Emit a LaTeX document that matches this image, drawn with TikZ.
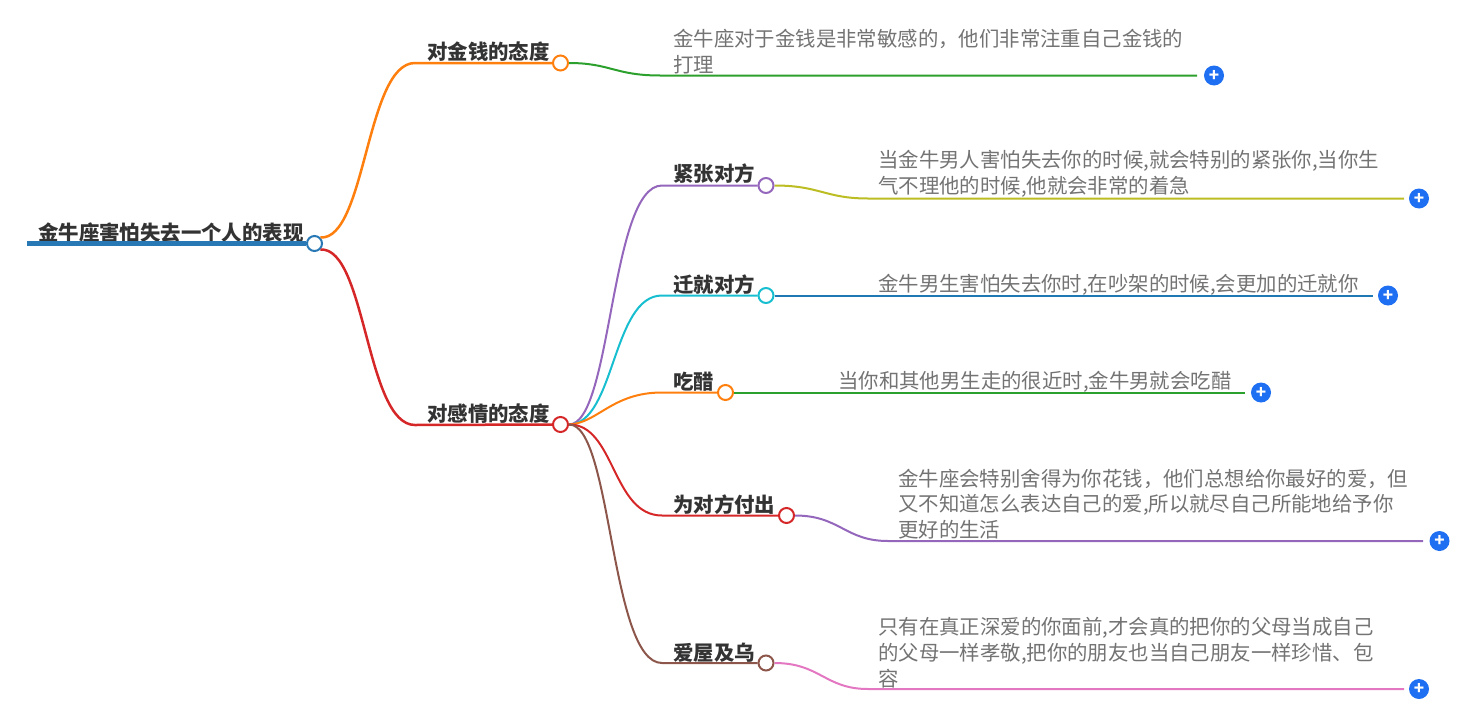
\documentclass[tikz,border=0pt]{standalone}
\usepackage{fontspec}
\setmainfont{Noto Sans CJK SC}
\usepackage{tikz}
\definecolor{rootblue}{HTML}{2878B5}
\definecolor{torange}{HTML}{FF7F0E}
\definecolor{tred}{HTML}{D62728}
\definecolor{tgreen}{HTML}{2CA02C}
\definecolor{tpurple}{HTML}{9467BD}
\definecolor{tolive}{HTML}{BCBD22}
\definecolor{tteal}{HTML}{17BECF}
\definecolor{tblue}{HTML}{1F77B4}
\definecolor{tbrown}{HTML}{8C564B}
\definecolor{tpink}{HTML}{E377C2}
\definecolor{plusblue}{HTML}{1F6FF2}
\tikzset{
   branch/.style={draw=#1, line width=2pt},
   topic/.style={font=\fontsize{20.4}{26}\selectfont\bfseries, text=black!80, anchor=west, inner sep=0pt},
   leaf/.style={font=\fontsize{20.4}{25.7}\selectfont, text=black!55, anchor=west, align=left, inner sep=0pt},
   dot/.style={circle, draw=#1, fill=white, line width=2pt, minimum size=15pt, inner sep=0pt},
   plusdot/.style={circle, fill=plusblue, text=white, minimum size=20pt, inner sep=0pt,
      font=\fontsize{17}{17}\selectfont\bfseries},
    }
\begin{document}
\begin{tikzpicture}[x=1pt,y=-1pt]
            \useasboundingbox (0,0) rectangle (1472,704);
            \node[topic] (root) at(38,232.5) {金牛座害怕失去一个人的表现};
            \coordinate (rootstart) at(27,243.5);
            \node[dot=rootblue] (rootdot) at(314.5,243.5) {};
            \draw[branch=rootblue, line width=5pt](rootstart) to (rootdot.west);

            \node[topic] (money) at(427,51.5) {对金钱的态度};
            \node[dot=torange] (moneydot) at(560.5,63) {};
            \coordinate (moneybend) at(415,63);
            \draw[branch=torange, line width=2.5pt](rootdot.north east) .. controls (366,240) and (366,63) .. (moneybend) -- (moneydot.west);
            \node[leaf] (moneytext) at(673,51.5) {金牛座对于金钱是非常敏感的，他们非常注重自己金钱的\\打理};
            \node[plusdot] (moneyplus) at(1214,75.5) {+};
            \coordinate (moneyleaf) at(660,75.5);
            \coordinate (moneyend) at(1197,75.5);
            \draw[branch=tgreen](moneydot.east) .. controls (610,63) and (615,75.5) .. (moneyleaf) -- (moneyend);

            \node[topic] (love) at(427,413.5) {对感情的态度};
            \node[dot=tred] (lovedot) at(560.5,424.5) {};
            \coordinate (lovebend) at(415,425);
            \draw[branch=tred, line width=2.5pt](rootdot.south east) .. controls (366,247) and (366,425) .. (lovebend) -- (lovedot.west);

            \node[topic] (nervous) at(673,173.5) {紧张对方};
            \node[dot=tpurple] (nervousdot) at(766,185.5) {};
            \coordinate (nervousbend) at(662,185.5);
            \draw[branch=tpurple](lovedot.east) .. controls (612,424) and (610,185.5) .. (nervousbend) -- (nervousdot.west);
            \node[leaf] (nervoustext) at(878,174) {当金牛男人害怕失去你的时候,就会特别的紧张你,当你生\\气不理他的时候,他就会非常的着急};
            \node[plusdot] (nervousplus) at(1419,198.5) {+};
            \coordinate (nervousleaf) at(868,198.5);
            \coordinate (nervousend) at(1404,198.5);
            \draw[branch=tolive](nervousdot.east) .. controls (820,185.5) and (825,198.5) .. (nervousleaf) -- (nervousend);

            \node[topic] (yield) at(673,284.5) {迁就对方};
            \node[dot=tteal] (yielddot) at(766,295.5) {};
            \coordinate (yieldbend) at(662,295.5);
            \draw[branch=tteal](lovedot.east) .. controls (615,424) and (612,295.5) .. (yieldbend) -- (yielddot.west);
            \node[leaf] (yieldtext) at(878,284.5) {金牛男生害怕失去你时,在吵架的时候,会更加的迁就你};
            \node[plusdot] (yieldplus) at(1388,295.5) {+};
            \coordinate (yieldend) at(1373,295.5);
            \draw[branch=tblue](yielddot.east) -- (yieldend);

            \node[topic] (jealous) at(673,381.5) {吃醋};
            \node[dot=torange] (jealousdot) at(725.5,392.5) {};
            \coordinate (jealousbend) at(662,392.5);
            \draw[branch=torange](lovedot.east) .. controls (598,423) and (612,392.5) .. (jealousbend) -- (jealousdot.west);
            \node[leaf] (jealoustext) at(838,381.5) {当你和其他男生走的很近时,金牛男就会吃醋};
            \node[plusdot] (jealousplus) at(1261,392.5) {+};
            \coordinate (jealousend) at(1245,392.5);
            \draw[branch=tgreen](jealousdot.east) -- (jealousend);

            \node[topic] (pay) at(673,504.5) {为对方付出};
            \node[dot=tred] (paydot) at(786.5,515.5) {};
            \coordinate (paybend) at(662,515.5);
            \draw[branch=tred](lovedot.east) .. controls (615,424) and (612,515.5) .. (paybend) -- (paydot.west);
            \node[leaf] (paytext) at(898,504) {金牛座会特别舍得为你花钱，他们总想给你最好的爱，但\\又不知道怎么表达自己的爱,所以就尽自己所能地给予你\\更好的生活};
            \node[plusdot] (payplus) at(1439.5,541) {+};
            \coordinate (payleaf) at(888,541);
            \coordinate (payend) at(1423,541);
            \draw[branch=tpurple](paydot.east) .. controls (840,515.5) and (845,541) .. (payleaf) -- (payend);

            \node[topic] (crow) at(673,652.5) {爱屋及乌};
            \node[dot=tbrown] (crowdot) at(766,663) {};
            \coordinate (crowbend) at(662,663);
            \draw[branch=tbrown](lovedot.east) .. controls (612,424) and (610,663) .. (crowbend) -- (crowdot.west);
            \node[leaf] (crowtext) at(878,652.5) {只有在真正深爱的你面前,才会真的把你的父母当成自己\\的父母一样孝敬,把你的朋友也当自己朋友一样珍惜、包\\容};
            \node[plusdot] (crowplus) at(1419,689) {+};
            \coordinate (crowleaf) at(868,689);
            \coordinate (crowend) at(1404,689);
            \draw[branch=tpink](crowdot.east) .. controls (820,663) and (825,689) .. (crowleaf) -- (crowend);
        \end{tikzpicture}
\end{document}
